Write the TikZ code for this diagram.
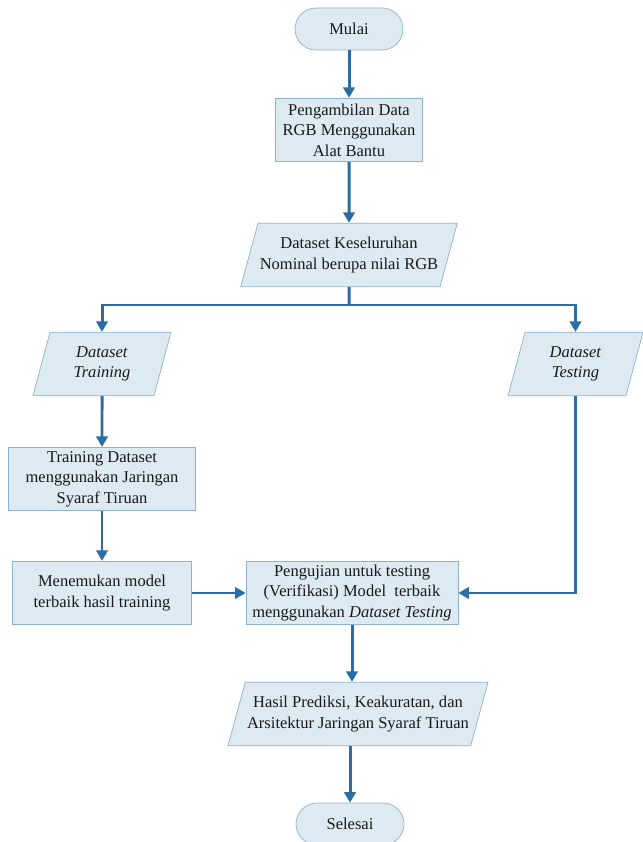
\documentclass[tikz,border=0pt]{standalone}
\usepackage{fontspec}
\setmainfont{Liberation Serif}
\usetikzlibrary{arrows.meta,shapes.geometric,positioning}
\definecolor{boxFill}{HTML}{DDEAF2}
\definecolor{boxLine}{HTML}{8DB3CC}
\definecolor{flowBlue}{HTML}{2B6DA4}

\begin{document}
\begin{tikzpicture}[on grid, auto, semithick]
	\tikzstyle{base} = [draw=boxLine, thin, fill=boxFill, text=black!90, align=center, inner sep=1pt, font={\fontsize{9.4}{11.6}\selectfont}]
	\tikzstyle{terminal} = [base, rectangle, rounded corners=0.42cm, minimum width=2.16cm, minimum height=0.84cm]
	\tikzstyle{process} = [base, rectangle, minimum height=1.27cm]
	\tikzstyle{data} = [base, trapezium, trapezium left angle=66, trapezium right angle=114, trapezium stretches body, minimum height=1.27cm]
	\tikzstyle{flowLine} = [flowBlue, line width=1.7pt];
	\tikzstyle{flow} = [flowLine, -{Triangle[width=6.5pt,length=6pt]}];

	\useasboundingbox (0,0) rectangle (12.84,-16.84);

	\node[terminal](start) at (6.98,-0.58) {Mulai};
	\node[process, minimum width=2.94cm](acq) [below=2.02cm of start] {Pengambilan Data\\RGB Menggunakan\\Alat Bantu};
	\node[data, minimum width=4.24cm](all) [below=2.5cm of acq] {Dataset Keseluruhan\\Nominal berupa nilai RGB};
	\node[data, minimum width=2.76cm](dtrain) at (2.04,-7.28) {\textit{Dataset}\\\textit{Training}};
	\node[data, minimum width=2.7cm](dtest) at (11.51,-7.28) {\textit{Dataset}\\\textit{Testing}};
	\node[process, minimum width=3.74cm](train) [below=2.3cm of dtrain] {Training Dataset\\menggunakan Jaringan\\Syaraf Tiruan};
	\node[process, minimum width=3.58cm](best) [below=2.28cm of train] {Menemukan model\\terbaik hasil training};
	\node[process, minimum width=4.24cm](test) [right=5cm of best] {Pengujian untuk testing\\(Verifikasi) Model~ terbaik\\menggunakan \textit{Dataset Testing}};
	\node[data, minimum width=5.06cm](result) at (7.16,-14.28) {Hasil Prediksi, Keakuratan, dan\\Arsitektur Jaringan Syaraf Tiruan};
	\node[terminal](stop) at (7.0,-16.48) {Selesai};

	\coordinate (fork) at (all |- 0,-6.1);

	\draw[flow] (start) -- (acq);
	\draw[flow] (acq) -- (all);
	\draw[flowLine] (all) -- (fork);
	\draw[flow] (fork) -| (dtrain);
	\draw[flow] (fork) -| (dtest);
	\draw[flow] (dtrain) -- (train);
	\draw[flow] (train) -- (best);
	\draw[flow] (best) -- (test);
	\draw[flow] (dtest) |- (test);
	\draw[flow] (test.south) -- (test.south |- result.north);
	\draw[flow] (result.south -| stop.north) -- (stop.north);
\end{tikzpicture}
\end{document}
